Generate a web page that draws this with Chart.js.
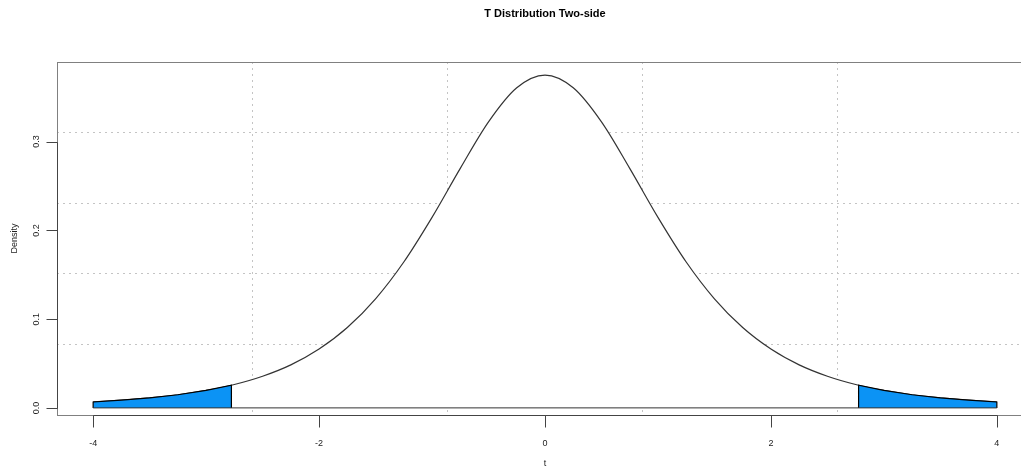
<!DOCTYPE html>
<html>
<head>
<meta charset="utf-8">
<title>T Distribution Two-side</title>
<script src="https://cdn.jsdelivr.net/npm/chart.js@4/dist/chart.umd.min.js"></script>
<style>
  html, body { margin: 0; padding: 0; background: #fff; overflow: hidden; width: 1021px; height: 470px; }
  #wrap { width: 1045px; height: 470px; }
</style>
</head>
<body>
<div id="wrap"><canvas id="tChart" width="1045" height="470"></canvas></div>
<script>
// curve values (t on x, density on y)
const tValues = [-4, -3.75, -3.5, -3.25, -3, -2.75, -2.5, -2.25, -2, -1.75, -1.5, -1.25, -1, -0.75, -0.5, -0.25,
                 0, 0.25, 0.5, 0.75, 1, 1.25, 1.5, 1.75, 2, 2.25, 2.5, 2.75, 3, 3.25, 3.5, 3.75, 4];
const density = [0.0067, 0.0087, 0.0113, 0.0148, 0.0197, 0.0264, 0.0357, 0.0485, 0.0663, 0.0905, 0.1229, 0.1644, 0.2147, 0.2699, 0.3223, 0.3607,
                 0.375, 0.3607, 0.3223, 0.2699, 0.2147, 0.1644, 0.1229, 0.0905, 0.0663, 0.0485, 0.0357, 0.0264, 0.0197, 0.0148, 0.0113, 0.0087, 0.0067];

// shaded tails start at +/- critical value
const critical = 2.776;
const densityAtCritical = 0.0256;

// axis ticks / labels
const xTicks = [-4, -2, 0, 2, 4];
const xTickLabels = ["-4", "-2", "0", "2", "4"];
const yTicks = [0, 0.1, 0.2, 0.3];
const yTickLabels = ["0.0", "0.1", "0.2", "0.3"];

// plot ranges (R style, 4% extension) and dotted grid positions
const xRange = [-4.32, 4.32];
const yRange = [-0.008, 0.3897];
const xGrid = [-2.592, -0.864, 0.864, 2.592];
const yGrid = [0.0716, 0.1511, 0.2307, 0.3102];

const chartTitle = "T Distribution Two-side";
const xTitle = "t";
const yTitle = "Density";

/*****************************************************
 * build point lists (x kept non-decreasing for the filler)
 *****************************************************/
const curvePts = tValues.map((t, i) => ({ x: t, y: density[i] }));

const leftTail = [{ x: tValues[0], y: 0 }];
tValues.forEach((t, i) => { if (t <= -critical) leftTail.push({ x: t, y: density[i] }); });
leftTail.push({ x: -critical, y: densityAtCritical }, { x: -critical, y: 0 });

const rightTail = [{ x: critical, y: 0 }, { x: critical, y: densityAtCritical }];
tValues.forEach((t, i) => { if (t >= critical) rightTail.push({ x: t, y: density[i] }); });
rightTail.push({ x: tValues[tValues.length - 1], y: 0 });

const baseline = [{ x: tValues[0], y: 0 }, { x: tValues[tValues.length - 1], y: 0 }];

const font = "'Liberation Sans', Arial, Helvetica, sans-serif";

/*****************************************************
 * R-like box, axes and labels
 *****************************************************/
const rAxes = {
  id: "rAxes",
  afterDraw(chart) {
    const { ctx, chartArea: a, scales: { x, y } } = chart;
    ctx.save();

    // plot box
    ctx.strokeStyle = "#808080";
    ctx.lineWidth = 1;
    ctx.strokeRect(a.left + 0.5, a.top + 0.5, a.right - a.left, a.bottom - a.top);

    ctx.strokeStyle = "#444";
    ctx.fillStyle = "#222";
    ctx.font = "9px " + font;

    // x axis
    const ax = a.bottom + 0.5;
    const x0 = Math.round(x.getPixelForValue(xTicks[0])) + 0.5;
    const x1 = Math.round(x.getPixelForValue(xTicks[xTicks.length - 1])) + 0.5;
    ctx.beginPath();
    ctx.moveTo(x0, ax); ctx.lineTo(x1, ax);
    xTicks.forEach(v => {
      const px = Math.round(x.getPixelForValue(v)) + 0.5;
      ctx.moveTo(px, ax); ctx.lineTo(px, ax + 12);
    });
    ctx.stroke();
    ctx.textAlign = "center";
    ctx.textBaseline = "middle";
    xTicks.forEach((v, i) => ctx.fillText(xTickLabels[i], x.getPixelForValue(v), 444));
    ctx.fillText(xTitle, (a.left + a.right) / 2, 464);

    // y axis
    const ay = a.left + 0.5;
    const y0 = Math.round(y.getPixelForValue(yTicks[0])) + 0.5;
    const y1 = Math.round(y.getPixelForValue(yTicks[yTicks.length - 1])) + 0.5;
    ctx.beginPath();
    ctx.moveTo(ay, y0); ctx.lineTo(ay, y1);
    yTicks.forEach(v => {
      const py = Math.round(y.getPixelForValue(v)) + 0.5;
      ctx.moveTo(ay, py); ctx.lineTo(ay - 11, py);
    });
    ctx.stroke();
    yTicks.forEach((v, i) => {
      ctx.save();
      ctx.translate(37, y.getPixelForValue(v));
      ctx.rotate(-Math.PI / 2);
      ctx.fillText(yTickLabels[i], 0, 0);
      ctx.restore();
    });
    ctx.save();
    ctx.translate(15, (a.top + a.bottom) / 2);
    ctx.rotate(-Math.PI / 2);
    ctx.fillText(yTitle, 0, 0);
    ctx.restore();

    // title
    ctx.font = "bold 11px " + font;
    ctx.fillStyle = "#000";
    ctx.fillText(chartTitle, (a.left + a.right) / 2, 14);

    ctx.restore();
  }
};

const W = 1045, H = 470;
const plotBox = { left: 57, top: 62, right: 1033, bottom: 415 };

new Chart(document.getElementById("tChart").getContext("2d"), {
  type: "line",
  data: {
    datasets: [
      {
        label: "baseline",
        data: baseline,
        borderColor: "#333",
        borderWidth: 1,
        pointRadius: 0,
        fill: false,
        order: 0
      },
      {
        label: "density",
        data: curvePts,
        borderColor: "#333",
        borderWidth: 1.2,
        backgroundColor: "#ffffff",
        cubicInterpolationMode: "monotone",
        pointRadius: 0,
        fill: { value: 0 },
        order: 2
      },
      {
        label: "left tail",
        data: leftTail,
        borderColor: "#000",
        borderWidth: 1.2,
        backgroundColor: "#0B93F5",
        tension: 0,
        pointRadius: 0,
        fill: { value: 0 },
        order: 1
      },
      {
        label: "right tail",
        data: rightTail,
        borderColor: "#000",
        borderWidth: 1.2,
        backgroundColor: "#0B93F5",
        tension: 0,
        pointRadius: 0,
        fill: { value: 0 },
        order: 1
      }
    ]
  },
  options: {
    responsive: false,
    animation: false,
    devicePixelRatio: 1,
    events: [],
    layout: {
      autoPadding: false,
      padding: { left: plotBox.left, top: plotBox.top, right: W - plotBox.right, bottom: H - plotBox.bottom }
    },
    plugins: {
      legend: { display: false },
      tooltip: { enabled: false },
      title: { display: false },
      filler: { propagate: false, drawTime: "beforeDatasetDraw" }
    },
    scales: {
      x: {
        type: "linear",
        min: xRange[0],
        max: xRange[1],
        afterBuildTicks: s => { s.ticks = xGrid.map(v => ({ value: v })); },
        afterFit: s => { s.height = 0; },
        ticks: { display: false },
        border: { display: false, dash: [2, 4] },
        grid: { color: "#c4c4c4", lineWidth: 1, drawTicks: false, z: -1 }
      },
      y: {
        type: "linear",
        min: yRange[0],
        max: yRange[1],
        afterBuildTicks: s => { s.ticks = yGrid.map(v => ({ value: v })); },
        afterFit: s => { s.width = 0; },
        ticks: { display: false },
        border: { display: false, dash: [2, 4] },
        grid: { color: "#c4c4c4", lineWidth: 1, drawTicks: false, z: -1 }
      }
    }
  },
  plugins: [rAxes]
});
</script>
</body>
</html>
